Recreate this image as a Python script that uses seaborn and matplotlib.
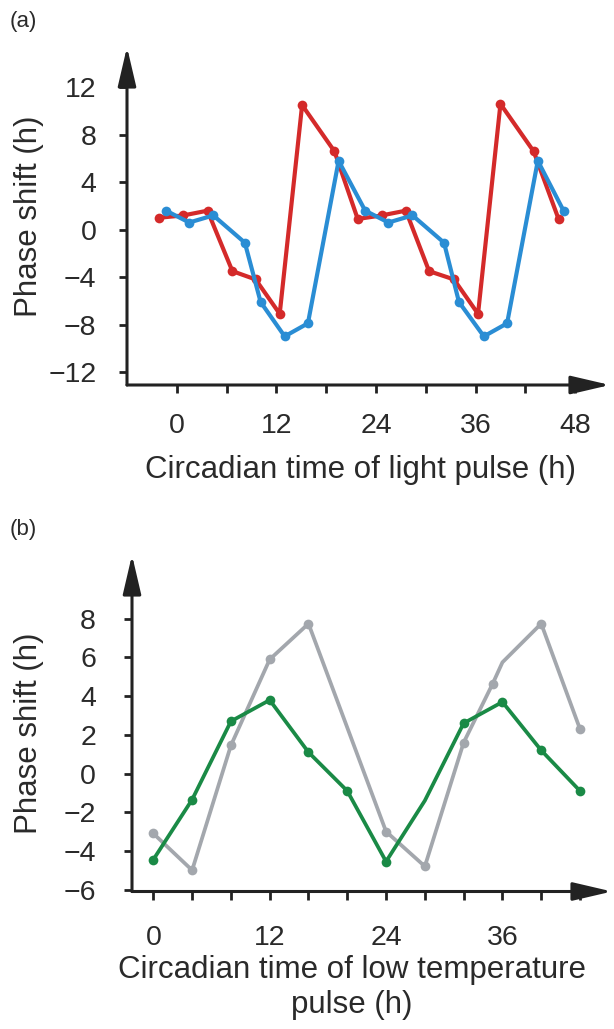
import matplotlib
matplotlib.use("Agg")
import matplotlib.pyplot as plt
import seaborn as sns

# panel (a): light pulse PRC
ct_red = [-2.2, 0.8, 3.7, 6.7, 9.5, 12.4, 15.1, 19.0, 21.8, 24.7, 27.6, 30.4, 33.4, 36.3, 39.0, 43.0, 46.0]
shift_red = [1.0, 1.2, 1.6, -3.5, -4.2, -7.1, 10.5, 6.6, 0.9, 1.2, 1.6, -3.5, -4.2, -7.1, 10.6, 6.6, 0.9]
ct_blue = [-1.3, 1.5, 4.4, 8.2, 10.1, 13.0, 15.8, 19.5, 22.7, 25.5, 28.4, 32.2, 34.0, 37.0, 39.8, 43.5, 46.6]
shift_blue = [1.6, 0.6, 1.2, -1.1, -6.1, -9.0, -7.9, 5.8, 1.6, 0.6, 1.2, -1.1, -6.1, -9.0, -7.9, 5.8, 1.6]

# panel (b): low temperature pulse PRC
ct_green = [0, 4, 8, 12, 16, 20, 24, 28, 32, 36, 40, 44]
shift_green = [-4.45, -1.35, 2.7, 3.8, 1.1, -0.9, -4.55, -1.4, 2.6, 3.7, 1.2, -0.9]
ct_gray = [0, 4, 8, 12, 16, 24, 28, 32, 35, 36, 40, 44]
shift_gray = [-3.1, -5.0, 1.45, 5.9, 7.75, -3.0, -4.8, 1.6, 4.65, 5.75, 7.75, 2.3]

ticks_a_x = [0, 12, 24, 36, 48]
ticks_a_y = [-12, -8, -4, 0, 4, 8, 12]
ticks_b_x = [0, 12, 24, 36]
ticks_b_y = [-6, -4, -2, 0, 2, 4, 6, 8]

sns.set_style("white")
plt.rcParams["font.family"] = ["Liberation Sans", "DejaVu Sans"]

W, H = 614, 1029
fig = plt.figure(figsize=(W / 100, H / 100), dpi=100)

def box(l, r, b, t):
    return [l / W, 1 - b / H, (r - l) / W, (b - t) / H]

ax1 = fig.add_axes(box(127, 610, 385, 47))
ax2 = fig.add_axes(box(132, 612, 891.5, 555))

txt = "#2a2a2a"

sns.lineplot(x=ct_red, y=shift_red, ax=ax1, color="#d42a2a", lw=3.0,
             marker="o", markersize=7, markeredgewidth=0, sort=False)
sns.lineplot(x=ct_blue, y=shift_blue, ax=ax1, color="#2a8dd4", lw=3.0,
             marker="o", markersize=7, markeredgewidth=0, sort=False)

sns.lineplot(x=ct_gray, y=shift_gray, ax=ax2, color="#a3a7ad", lw=2.7,
             marker="o", markersize=7, markeredgewidth=0, sort=False,
             markevery=[0, 1, 2, 3, 4, 5, 6, 7, 8, 10, 11])
sns.lineplot(x=ct_green, y=shift_green, ax=ax2, color="#1a8a46", lw=2.7,
             marker="o", markersize=7, markeredgewidth=0, sort=False,
             markevery=[0, 1, 2, 3, 4, 5, 6, 8, 9, 10, 11])

ax1.set_xlim(-6, 52.2)
ax1.set_ylim(-13.1, 15.4)
ax2.set_xlim(-2.2, 47.3)
ax2.set_ylim(-6.1, 11.3)

ax1.set_xticks([0, 6, 12, 18, 24, 30, 36, 42, 48])
ax1.set_xticklabels([str(v) if v in ticks_a_x else "" for v in [0, 6, 12, 18, 24, 30, 36, 42, 48]])
ax1.set_yticks(ticks_a_y)
ax2.set_xticks(list(range(0, 45, 4)))
ax2.set_xticklabels([str(v) if v in ticks_b_x else "" for v in range(0, 45, 4)])
ax2.set_yticks(ticks_b_y)

for ax, padx, pady in [(ax1, 14, 16), (ax2, 18, 20)]:
    for s in ax.spines.values():
        s.set_visible(False)
    ax.tick_params(axis="x", direction="out", length=6, width=2, color="#222222",
                   labelsize=20.5, labelcolor=txt, pad=padx, bottom=True)
    ax.tick_params(axis="y", direction="out", length=6, width=2, color="#222222",
                   labelsize=20.5, labelcolor=txt, pad=pady, left=True)
    # arrow axes
    ax.annotate("", xy=(1, 0), xytext=(0, 0), xycoords="axes fraction",
                arrowprops=dict(arrowstyle="-|>,head_length=1.2,head_width=0.28",
                                mutation_scale=20, lw=2.2, color="#222222",
                                shrinkA=0, shrinkB=0), annotation_clip=False)
    ax.annotate("", xy=(0, 1), xytext=(0, 0), xycoords="axes fraction",
                arrowprops=dict(arrowstyle="-|>,head_length=1.2,head_width=0.28",
                                mutation_scale=20, lw=2.2, color="#222222",
                                shrinkA=0, shrinkB=0), annotation_clip=False)

ax1.set_xlabel("Circadian time of light pulse (h)", fontsize=22.5, color=txt)
ax1.xaxis.set_label_coords(0.484, (385 - 455) / 338)
ax1.set_ylabel("Phase shift (h)", fontsize=22.5, color=txt)
ax1.yaxis.set_label_coords((44 - 127) / 483, 0.5)

ax2.set_xlabel("Circadian time of low temperature\npulse (h)", fontsize=22.5,
               color=txt, linespacing=1.2)
ax2.xaxis.set_label_coords(0.458, (891.5 - 955) / 336.5)
ax2.set_ylabel("Phase shift (h)", fontsize=22.5, color=txt)
ax2.yaxis.set_label_coords((44 - 132) / 480, 0.47)

fig.text(10 / W, 1 - 21 / H, "(a)", fontsize=16, color=txt, va="center")
fig.text(10 / W, 1 - 530 / H, "(b)", fontsize=16, color=txt, va="center")

fig.savefig("out.png", dpi=100)
